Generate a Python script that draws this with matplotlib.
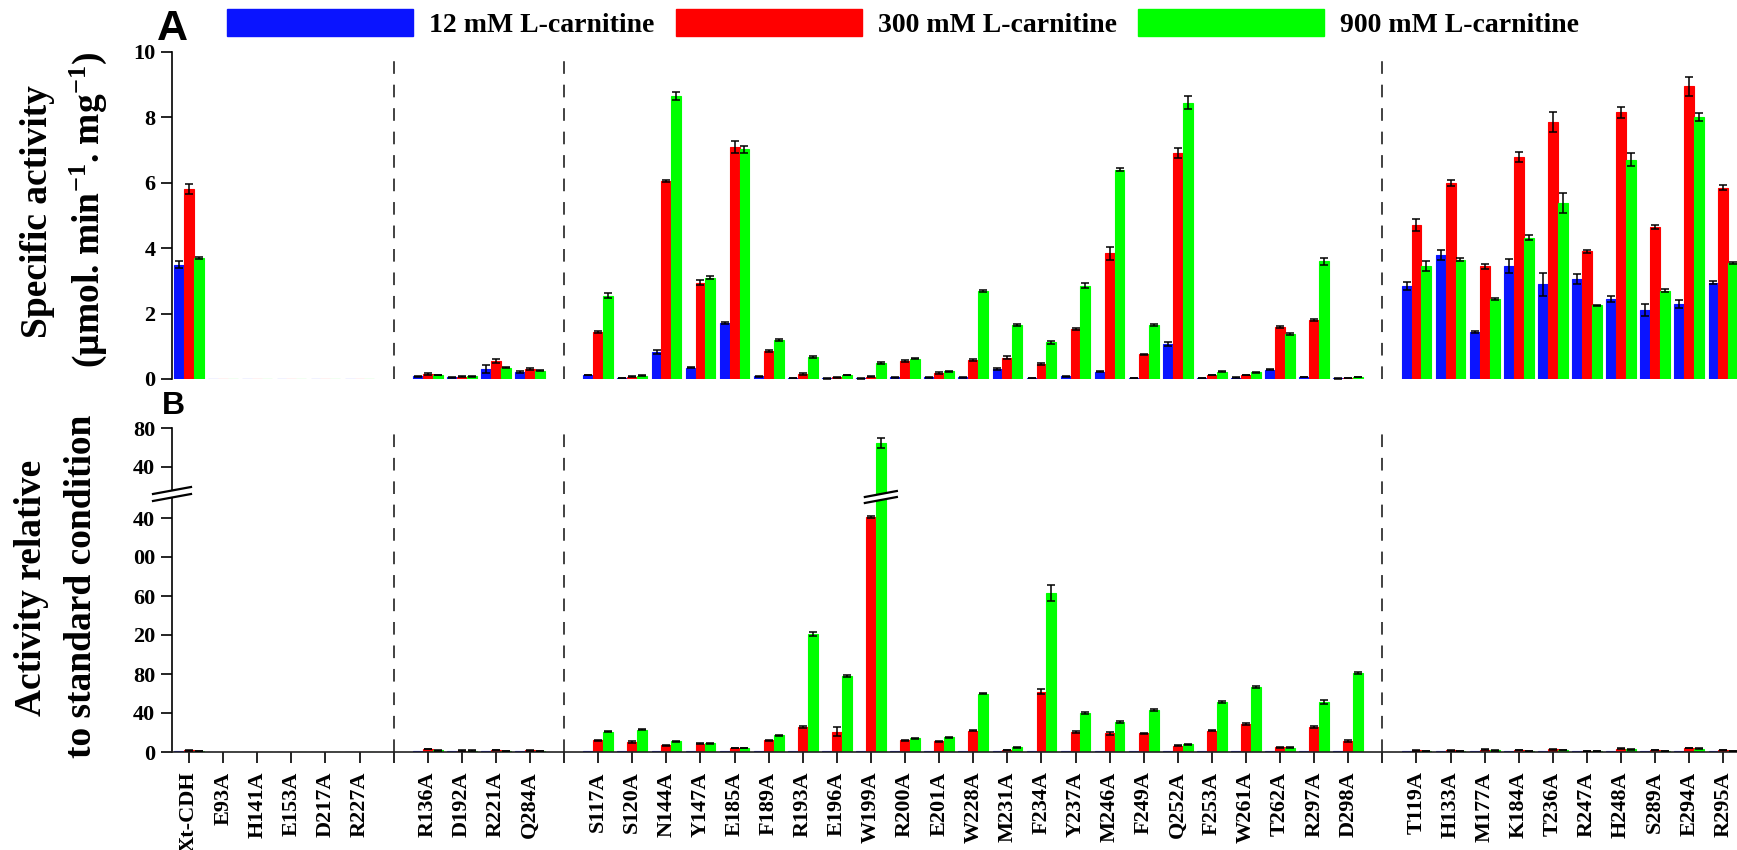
import matplotlib
matplotlib.use('Agg')
import matplotlib.pyplot as plt
import numpy as np
from matplotlib.patches import Patch, Polygon
from matplotlib.lines import Line2D
from matplotlib.ticker import FuncFormatter

# mutant groups, separated on the chart by dashed lines
group1 = ['Xt-CDH', 'E93A', 'H141A', 'E153A', 'D217A', 'R227A']
group2 = ['R136A', 'D192A', 'R221A', 'Q284A']
group3 = ['S117A', 'S120A', 'N144A', 'Y147A', 'E185A', 'F189A', 'R193A', 'E196A',
          'W199A', 'R200A', 'E201A', 'W228A', 'M231A', 'F234A', 'Y237A', 'M246A',
          'F249A', 'Q252A', 'F253A', 'W261A', 'T262A', 'R297A', 'D298A']
group4 = ['T119A', 'H133A', 'M177A', 'K184A', 'T236A', 'R247A', 'H248A', 'S289A',
          'E294A', 'R295A']

conditions = ['12 mM L-carnitine', '300 mM L-carnitine', '900 mM L-carnitine']

# (A) specific activity, umol/min/mg
act_12 = [3.50, 0, 0, 0, 0, 0,
          0.08, 0.05, 0.30, 0.20,
          0.12, 0.03, 0.82, 0.35, 1.72, 0.08, 0.03, 0.02, 0.02, 0.05, 0.05, 0.05,
          0.30, 0.03, 0.08, 0.22, 0.03, 1.08, 0.03, 0.04, 0.28, 0.06, 0.02,
          2.85, 3.80, 1.45, 3.45, 2.90, 3.05, 2.45, 2.10, 2.30, 2.95]
act_300 = [5.80, 0, 0, 0, 0, 0,
           0.15, 0.07, 0.55, 0.32,
           1.45, 0.07, 6.05, 2.95, 7.10, 0.85, 0.15, 0.05, 0.07, 0.55, 0.18, 0.58,
           0.65, 0.45, 1.52, 3.85, 0.75, 6.92, 0.12, 0.12, 1.60, 1.80, 0.03,
           4.70, 6.00, 3.45, 6.78, 7.85, 3.90, 8.15, 4.65, 8.95, 5.85]
act_900 = [3.70, 0, 0, 0, 0, 0,
           0.12, 0.08, 0.35, 0.25,
           2.55, 0.10, 8.65, 3.10, 7.02, 1.18, 0.68, 0.12, 0.48, 0.62, 0.23, 2.68,
           1.65, 1.12, 2.85, 6.40, 1.65, 8.45, 0.22, 0.20, 1.38, 3.60, 0.06,
           3.45, 3.65, 2.45, 4.32, 5.38, 2.25, 6.70, 2.70, 8.00, 3.55]
act_12_err = [0.12, 0, 0, 0, 0, 0,
              0.01, 0.01, 0.12, 0.03,
              0.01, 0.01, 0.06, 0.02, 0.03, 0.01, 0.01, 0.01, 0.01, 0.01, 0.01, 0.01,
              0.03, 0.01, 0.01, 0.02, 0.01, 0.06, 0.01, 0.01, 0.02, 0.01, 0.01,
              0.12, 0.15, 0.03, 0.22, 0.35, 0.15, 0.08, 0.18, 0.12, 0.05]
act_300_err = [0.15, 0, 0, 0, 0, 0,
               0.02, 0.01, 0.05, 0.03,
               0.03, 0.01, 0.03, 0.08, 0.18, 0.03, 0.02, 0.01, 0.01, 0.03, 0.02, 0.03,
               0.05, 0.03, 0.03, 0.20, 0.02, 0.15, 0.01, 0.01, 0.03, 0.02, 0.01,
               0.18, 0.10, 0.08, 0.15, 0.30, 0.05, 0.18, 0.05, 0.30, 0.08]
act_900_err = [0.03, 0, 0, 0, 0, 0,
               0.01, 0.01, 0.02, 0.02,
               0.08, 0.01, 0.12, 0.05, 0.10, 0.03, 0.03, 0.01, 0.03, 0.02, 0.02, 0.03,
               0.03, 0.05, 0.08, 0.05, 0.03, 0.20, 0.02, 0.02, 0.03, 0.10, 0.01,
               0.15, 0.05, 0.03, 0.08, 0.30, 0.02, 0.20, 0.05, 0.12, 0.02]

# (B) activity relative to the standard condition
rel_12 = [1, 0, 0, 0, 0, 0,
          1, 1, 1, 1,
          1, 1, 1, 1, 1, 1, 1, 1, 1, 1, 1, 1, 1, 1, 1, 1, 1, 1, 1, 1, 1, 1, 1,
          1, 1, 1, 1, 1, 1, 1, 1, 1, 1]
rel_300 = [1.7, 0, 0, 0, 0, 0,
           3.0, 1.5, 2.0, 1.6,
           12, 10, 7, 8.5, 4, 12, 26, 21, 241, 12, 11, 22,
           2, 62, 20.5, 19, 19, 6.5, 22, 29, 5, 26, 11,
           1.65, 1.6, 2.4, 2.0, 2.7, 1.3, 3.3, 2.2, 3.9, 2.0]
rel_900 = [1.1, 0, 0, 0, 0, 0,
           1.6, 1.5, 1.2, 1.3,
           21, 23, 11, 9, 4, 17, 121, 78, 465, 14, 15, 60,
           5, 163, 40, 31, 43, 8, 51, 67, 4.5, 51, 81,
           1.2, 1.0, 1.7, 1.25, 1.9, 0.75, 2.7, 1.3, 3.5, 1.2]
rel_300_err = [0.2, 0, 0, 0, 0, 0,
               0.3, 0.2, 0.2, 0.2,
               0.8, 0.8, 0.6, 0.6, 0.4, 0.8, 1.0, 5.0, 1.0, 0.8, 0.6, 0.8,
               0.4, 3.0, 1.0, 1.2, 0.8, 0.5, 0.8, 1.0, 0.4, 1.0, 0.8,
               0.2, 0.2, 0.2, 0.2, 0.3, 0.2, 0.3, 0.2, 0.3, 0.2]
rel_900_err = [0.2, 0, 0, 0, 0, 0,
               0.2, 0.2, 0.2, 0.2,
               0.8, 0.6, 0.6, 0.5, 0.3, 0.6, 2.0, 0.8, 5.0, 0.6, 0.6, 1.0,
               0.4, 8.0, 1.2, 1.0, 1.0, 0.4, 0.8, 1.0, 0.3, 2.0, 1.5,
               0.2, 0.2, 0.2, 0.2, 0.2, 0.1, 0.3, 0.2, 0.3, 0.2]

colors = ['#0a14ff', '#ff0000', '#00ff00']

W, H = 1737, 850
SERIF = ['Liberation Serif', 'DejaVu Serif']
SANS = ['Liberation Sans', 'DejaVu Sans']

plt.rcParams['font.family'] = SERIF
plt.rcParams['font.weight'] = 'bold'
plt.rcParams['mathtext.fontset'] = 'custom'
plt.rcParams['mathtext.rm'] = 'Liberation Serif:bold'
plt.rcParams['mathtext.it'] = 'Liberation Serif:bold'
plt.rcParams['mathtext.bf'] = 'Liberation Serif:bold'


def fx(px):
    return px / W


def fy(py):
    return 1 - py / H


def slot_positions(groups):
    """One slot per mutant, one empty slot for each dashed separator."""
    pos, seps, x = [], [], 0
    for i, g in enumerate(groups):
        for _ in g:
            pos.append(x)
            x += 1
        if i < len(groups) - 1:
            seps.append(x)
            x += 1
    return np.array(pos), seps, x


def draw_bars(ax, pos, series, errors, bw=0.29):
    for k, (vals, errs, c) in enumerate(zip(series, errors, colors)):
        xs = pos + (k - 1) * bw
        vals = np.asarray(vals, float)
        ax.bar(xs, vals, bw, color=c, edgecolor=c, linewidth=0.8, zorder=2)
        if errs is None:
            continue
        errs = np.asarray(errs, float)
        m = errs > 0
        ax.errorbar(xs[m], vals[m], yerr=errs[m], fmt='none', ecolor='black',
                    elinewidth=1.1, capsize=3, capthick=1.1, zorder=3)


def dashed_separators(ax, seps, top=1.0):
    for s in seps:
        ax.axvline(s, 0, top, color='#333333', lw=1.3, ls=(0, (7, 6)), zorder=1)


def break_mark(fig, xc, yc, half, dy, gap):
    # white band between two slanted strokes, in pixel units
    l1 = [(xc - half, yc - gap / 2 + dy), (xc + half, yc - gap / 2 - dy)]
    l2 = [(xc - half, yc + gap / 2 + dy), (xc + half, yc + gap / 2 - dy)]
    poly = [l1[0], l1[1], l2[1], l2[0]]
    fig.add_artist(Polygon([(fx(a), fy(b)) for a, b in poly], closed=True,
                           transform=fig.transFigure, fc='white', ec='none', zorder=10))
    for ln in (l1, l2):
        fig.add_artist(Line2D([fx(p[0]) for p in ln], [fy(p[1]) for p in ln],
                              transform=fig.transFigure, color='black', lw=1.6, zorder=11))


def style_y(ax, ticks, fmt=None):
    ax.set_yticks(ticks)
    if fmt is not None:
        ax.yaxis.set_major_formatter(FuncFormatter(fmt))
    ax.tick_params(axis='y', direction='out', length=8, width=1.2, labelsize=16, pad=4)
    for side in ('top', 'right', 'bottom'):
        ax.spines[side].set_visible(False)
    ax.spines['left'].set_linewidth(1.2)


def last_two_digits(v, _):
    return str(int(round(v)))[-2:]


def main():
    labels = group1 + group2 + group3 + group4
    pos, seps, nslots = slot_positions([group1, group2, group3, group4])
    xlim = (-0.5, 45.4)

    fig = plt.figure(figsize=(W / 100, H / 100), dpi=100)

    # panel A
    axA = fig.add_axes([fx(172), fy(379), 1 - fx(172), (379 - 52) / H])
    draw_bars(axA, pos, [act_12, act_300, act_900], [act_12_err, act_300_err, act_900_err])
    dashed_separators(axA, seps, top=0.975)
    axA.set_xlim(*xlim)
    axA.set_ylim(0, 10)
    style_y(axA, np.arange(0, 11, 2))
    axA.set_xticks([])

    # panel B, split y axis
    axBt = fig.add_axes([fx(172), fy(494), 1 - fx(172), (494 - 428) / H])
    axBb = fig.add_axes([fx(172), fy(752), 1 - fx(172), (752 - 494) / H])
    for ax in (axBt, axBb):
        draw_bars(ax, pos, [rel_12, rel_300, rel_900], [None, rel_300_err, rel_900_err])
        ax.set_xlim(*xlim)
    dashed_separators(axBt, seps, top=0.92)
    dashed_separators(axBb, seps)
    axBt.set_ylim(480 - 66 / 0.975, 480)
    axBb.set_ylim(0, 258 / 0.975)
    style_y(axBt, [440, 480], last_two_digits)
    style_y(axBb, np.arange(0, 241, 40), last_two_digits)
    axBt.set_xticks([])
    axBb.spines['bottom'].set_visible(True)
    axBb.spines['bottom'].set_linewidth(1.2)
    axBb.spines['bottom'].set_color('#222222')

    tick_pos = np.arange(nslots)
    tick_lab = [''] * nslots
    for p, lab in zip(pos, labels):
        tick_lab[p] = lab
    axBb.set_xticks(tick_pos)
    axBb.set_xticklabels(tick_lab, rotation=90, fontsize=16, fontweight='bold')
    axBb.tick_params(axis='x', direction='out', length=8, width=1.2, pad=6)

    # broken-axis marks on the spine and on the clipped W199A bar
    w199 = pos[labels.index('W199A')] + 0.29
    px_w199 = 172 + (w199 - xlim[0]) / (xlim[1] - xlim[0]) * (W - 172)
    break_mark(fig, 172, 494, 19, 3.5, 7)
    break_mark(fig, px_w199, 497, 16, 3.0, 6)

    # axis titles
    fig.text(fx(38), fy(212), 'Specific activity', rotation=90, ha='center',
             va='center', fontsize=27, fontweight='bold')
    fig.text(fx(88), fy(210), r'(µmol. min$^{-1}$. mg$^{-1}$)', rotation=90,
             ha='center', va='center', fontsize=27, fontweight='bold')
    fig.text(fx(32), fy(588), 'Activity relative', rotation=90, ha='center',
             va='center', fontsize=27, fontweight='bold')
    fig.text(fx(82), fy(586), 'to standard condition', rotation=90, ha='center',
             va='center', fontsize=27, fontweight='bold')

    # panel letters
    fig.text(fx(157), fy(40), 'A', family=SANS, fontweight='bold', fontsize=31,
             va='baseline')
    fig.text(fx(162), fy(414), 'B', family=SANS, fontweight='bold', fontsize=23,
             va='baseline')

    handles = [Patch(facecolor=c, edgecolor=c) for c in colors]
    fig.legend(handles, conditions, loc='upper left', bbox_to_anchor=(fx(227), fy(9)),
               ncol=3, frameon=False, fontsize=20, handlelength=6.7, handleheight=1.12,
               handletextpad=0.58, columnspacing=0.76, borderpad=0, borderaxespad=0)

    fig.savefig('out.png', dpi=100)


if __name__ == '__main__':
    main()
